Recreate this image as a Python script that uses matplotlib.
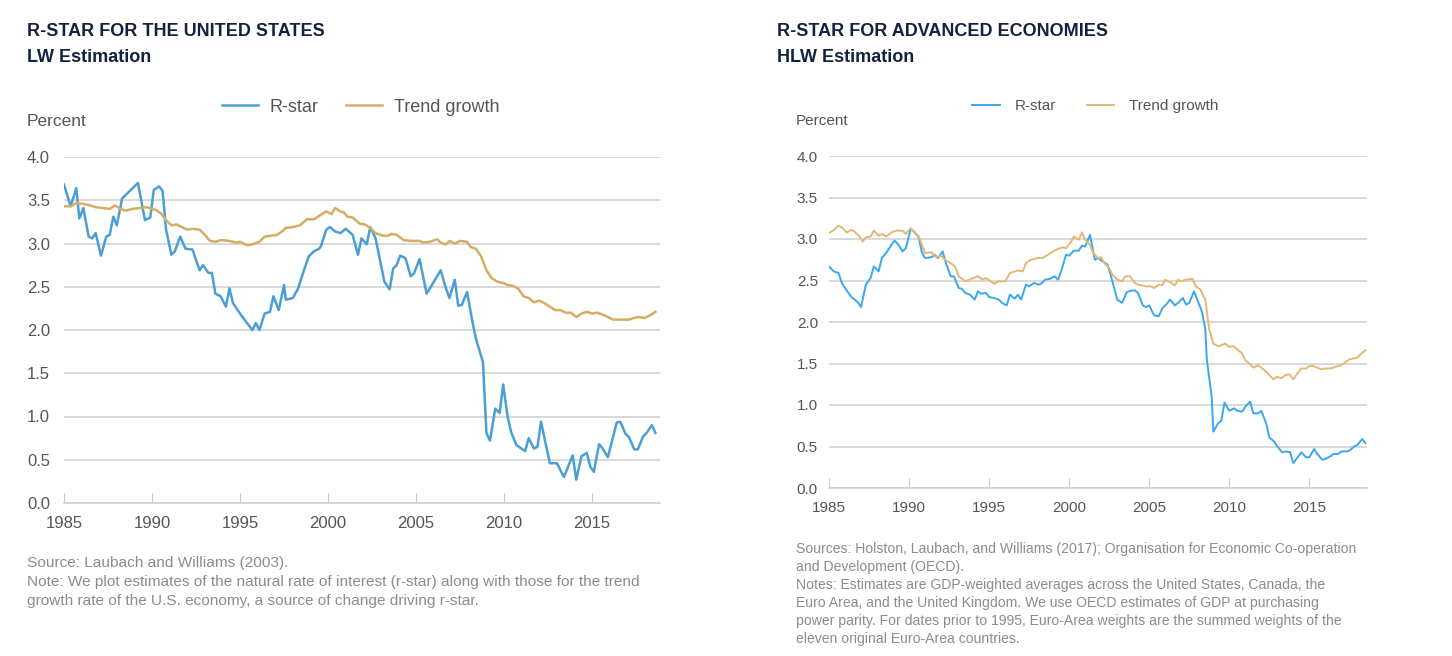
import matplotlib
matplotlib.use("Agg")
import matplotlib.pyplot as plt

# ---- left panel: R-star for the United States (LW) ----
us_rstar_yr = [1985.0, 1985.38, 1985.7, 1985.87, 1986.1, 1986.4, 1986.6, 1986.8, 1987.1, 1987.4,
               1987.6, 1987.8, 1988.0, 1988.3, 1988.7, 1989.2, 1989.6, 1989.9, 1990.1, 1990.4,
               1990.6, 1990.8, 1991.1, 1991.3, 1991.6, 1991.9, 1992.3, 1992.7, 1992.9, 1993.2,
               1993.4, 1993.6, 1993.9, 1994.2, 1994.4, 1994.6, 1995.0, 1995.4, 1995.7, 1995.9,
               1996.1, 1996.4, 1996.7, 1996.9, 1997.2, 1997.5, 1997.6, 1998.0, 1998.3, 1998.6,
               1998.9, 1999.2, 1999.5, 1999.6, 1999.9, 2000.1, 2000.4, 2000.7, 2001.0, 2001.4,
               2001.7, 2001.9, 2002.2, 2002.4, 2002.7, 2003.2, 2003.5, 2003.7, 2003.9, 2004.1,
               2004.4, 2004.7, 2004.9, 2005.2, 2005.6, 2005.9, 2006.4, 2006.7, 2006.9, 2007.2,
               2007.4, 2007.6, 2007.9, 2008.2, 2008.4, 2008.8, 2009.0, 2009.2, 2009.5, 2009.75,
               2009.95, 2010.2, 2010.4, 2010.7, 2011.2, 2011.4, 2011.7, 2011.9, 2012.1, 2012.6,
               2013.0, 2013.4, 2013.9, 2014.1, 2014.4, 2014.7, 2014.9, 2015.1, 2015.4, 2015.6,
               2015.9, 2016.4, 2016.6, 2016.9, 2017.1, 2017.4, 2017.6, 2017.9, 2018.1, 2018.4,
               2018.6]
us_rstar = [3.68, 3.43, 3.64, 3.29, 3.41, 3.08, 3.06, 3.12, 2.86, 3.08,
            3.10, 3.31, 3.21, 3.52, 3.60, 3.70, 3.27, 3.30, 3.62, 3.66,
            3.61, 3.16, 2.87, 2.91, 3.08, 2.94, 2.93, 2.69, 2.75, 2.66,
            2.66, 2.42, 2.39, 2.27, 2.48, 2.31, 2.19, 2.08, 2.00, 2.08,
            2.00, 2.19, 2.21, 2.39, 2.23, 2.52, 2.35, 2.37, 2.48, 2.67,
            2.85, 2.91, 2.94, 2.97, 3.16, 3.19, 3.14, 3.12, 3.17, 3.10,
            2.87, 3.06, 2.99, 3.19, 3.06, 2.56, 2.47, 2.71, 2.75, 2.86,
            2.83, 2.62, 2.66, 2.82, 2.42, 2.52, 2.69, 2.48, 2.37, 2.58,
            2.28, 2.29, 2.44, 2.10, 1.90, 1.63, 0.81, 0.72, 1.09, 1.04,
            1.37, 1.00, 0.82, 0.67, 0.60, 0.75, 0.63, 0.65, 0.94, 0.46,
            0.46, 0.30, 0.55, 0.27, 0.54, 0.58, 0.42, 0.36, 0.68, 0.63,
            0.53, 0.93, 0.94, 0.80, 0.76, 0.62, 0.62, 0.77, 0.81, 0.90,
            0.81]

us_trend_yr = [1985.0, 1985.4, 1985.7, 1986.0, 1986.3, 1986.5, 1986.8, 1987.2, 1987.6, 1987.9,
               1988.2, 1988.5, 1988.9, 1989.3, 1989.7, 1990.0, 1990.2, 1990.5, 1990.8, 1991.1,
               1991.4, 1991.7, 1992.0, 1992.3, 1992.7, 1993.0, 1993.3, 1993.6, 1993.9, 1994.4,
               1994.8, 1995.0, 1995.4, 1995.7, 1996.1, 1996.4, 1997.1, 1997.4, 1997.6, 1998.0,
               1998.4, 1998.8, 1999.2, 1999.5, 1999.9, 2000.2, 2000.4, 2000.7, 2000.9, 2001.1,
               2001.4, 2001.8, 2002.1, 2002.4, 2002.7, 2003.1, 2003.4, 2003.6, 2003.9, 2004.3,
               2004.7, 2005.2, 2005.4, 2005.8, 2006.2, 2006.4, 2006.7, 2006.9, 2007.2, 2007.5,
               2007.9, 2008.1, 2008.4, 2008.7, 2009.0, 2009.3, 2009.6, 2010.0, 2010.2, 2010.5,
               2010.8, 2011.1, 2011.4, 2011.7, 2012.0, 2012.3, 2012.6, 2012.9, 2013.2, 2013.5,
               2013.8, 2014.1, 2014.4, 2014.7, 2015.0, 2015.3, 2015.7, 2015.9, 2016.2, 2016.6,
               2017.1, 2017.4, 2017.6, 2018.0, 2018.3, 2018.6]
us_trend = [3.43, 3.43, 3.47, 3.46, 3.45, 3.44, 3.42, 3.41, 3.40, 3.44,
            3.40, 3.38, 3.40, 3.41, 3.42, 3.40, 3.39, 3.35, 3.27, 3.21,
            3.22, 3.19, 3.16, 3.17, 3.16, 3.10, 3.03, 3.02, 3.04, 3.03,
            3.01, 3.02, 2.98, 2.99, 3.02, 3.08, 3.10, 3.14, 3.18, 3.19,
            3.21, 3.28, 3.28, 3.32, 3.37, 3.34, 3.41, 3.37, 3.36, 3.31,
            3.30, 3.23, 3.22, 3.18, 3.12, 3.09, 3.09, 3.11, 3.10, 3.04,
            3.03, 3.03, 3.01, 3.02, 3.05, 3.01, 2.99, 3.03, 3.00, 3.03,
            3.02, 2.96, 2.94, 2.85, 2.69, 2.60, 2.56, 2.54, 2.52, 2.51,
            2.48, 2.39, 2.37, 2.32, 2.34, 2.31, 2.27, 2.23, 2.23, 2.20,
            2.20, 2.15, 2.19, 2.21, 2.19, 2.20, 2.17, 2.15, 2.12, 2.12,
            2.12, 2.14, 2.15, 2.14, 2.17, 2.21]

# ---- right panel: R-star for advanced economies (HLW) ----
ae_rstar_yr = [1985.0, 1985.3, 1985.6, 1985.8, 1986.0, 1986.4, 1986.8, 1987.0, 1987.3, 1987.6,
               1987.8, 1988.1, 1988.3, 1988.6, 1988.9, 1989.1, 1989.3, 1989.6, 1989.8, 1990.1,
               1990.3, 1990.6, 1990.8, 1991.0, 1991.4, 1991.6, 1991.8, 1992.1, 1992.3, 1992.6,
               1992.8, 1993.1, 1993.3, 1993.5, 1993.8, 1994.1, 1994.3, 1994.5, 1994.8, 1995.0,
               1995.3, 1995.6, 1995.8, 1996.1, 1996.3, 1996.6, 1996.8, 1997.0, 1997.3, 1997.5,
               1997.8, 1998.1, 1998.3, 1998.5, 1998.8, 1999.1, 1999.3, 1999.5, 1999.8, 2000.0,
               2000.3, 2000.6, 2000.8, 2001.0, 2001.3, 2001.6, 2001.8, 2002.1, 2002.4, 2002.7,
               2003.0, 2003.3, 2003.6, 2003.9, 2004.1, 2004.3, 2004.6, 2004.8, 2005.0, 2005.3,
               2005.6, 2005.8, 2006.1, 2006.3, 2006.6, 2006.8, 2007.1, 2007.3, 2007.5, 2007.8,
               2008.0, 2008.3, 2008.5, 2008.6, 2008.9, 2009.0, 2009.3, 2009.5, 2009.7, 2010.0,
               2010.3, 2010.5, 2010.8, 2011.0, 2011.3, 2011.5, 2011.8, 2012.0, 2012.3, 2012.5,
               2012.8, 2013.0, 2013.3, 2013.5, 2013.8, 2014.0, 2014.3, 2014.5, 2014.8, 2015.0,
               2015.3, 2015.5, 2015.8, 2016.0, 2016.3, 2016.5, 2016.8, 2017.0, 2017.3, 2017.5,
               2017.8, 2018.0, 2018.3, 2018.5]
ae_rstar = [2.67, 2.61, 2.59, 2.47, 2.41, 2.30, 2.24, 2.18, 2.45, 2.53,
            2.67, 2.61, 2.77, 2.84, 2.93, 2.98, 2.94, 2.85, 2.89, 3.12,
            3.09, 3.02, 2.84, 2.77, 2.78, 2.81, 2.77, 2.85, 2.71, 2.55,
            2.55, 2.41, 2.40, 2.35, 2.33, 2.27, 2.37, 2.34, 2.35, 2.30,
            2.29, 2.27, 2.23, 2.20, 2.33, 2.28, 2.33, 2.27, 2.45, 2.43,
            2.47, 2.45, 2.47, 2.51, 2.52, 2.55, 2.51, 2.61, 2.81, 2.80,
            2.86, 2.86, 2.92, 2.91, 3.05, 2.75, 2.77, 2.73, 2.69, 2.49,
            2.27, 2.23, 2.36, 2.38, 2.38, 2.35, 2.20, 2.18, 2.20, 2.08,
            2.07, 2.16, 2.22, 2.27, 2.20, 2.23, 2.29, 2.21, 2.23, 2.37,
            2.27, 2.12, 1.91, 1.54, 1.10, 0.68, 0.78, 0.81, 1.03, 0.93,
            0.96, 0.93, 0.92, 0.98, 1.04, 0.90, 0.90, 0.93, 0.78, 0.61,
            0.56, 0.50, 0.43, 0.44, 0.43, 0.30, 0.38, 0.43, 0.37, 0.37,
            0.47, 0.41, 0.34, 0.35, 0.38, 0.41, 0.41, 0.44, 0.44, 0.45,
            0.50, 0.52, 0.59, 0.54]

ae_trend_yr = [1985.0, 1985.3, 1985.6, 1985.8, 1986.1, 1986.4, 1986.6, 1986.9, 1987.1, 1987.3,
               1987.6, 1987.8, 1988.1, 1988.3, 1988.6, 1988.9, 1989.2, 1989.6, 1989.8, 1990.1,
               1990.3, 1990.6, 1990.8, 1991.0, 1991.4, 1991.7, 1992.0, 1992.3, 1992.6, 1992.9,
               1993.1, 1993.5, 1993.9, 1994.3, 1994.6, 1994.8, 1995.1, 1995.3, 1995.6, 1996.0,
               1996.3, 1996.6, 1996.8, 1997.1, 1997.3, 1997.6, 1998.0, 1998.3, 1998.6, 1998.9,
               1999.3, 1999.6, 1999.8, 2000.1, 2000.3, 2000.6, 2000.8, 2001.0, 2001.3, 2001.5,
               2001.8, 2002.0, 2002.2, 2002.5, 2002.7, 2003.0, 2003.3, 2003.5, 2003.8, 2004.1,
               2004.3, 2004.8, 2005.1, 2005.3, 2005.6, 2005.8, 2006.0, 2006.4, 2006.6, 2006.8,
               2007.0, 2007.3, 2007.7, 2007.9, 2008.2, 2008.5, 2008.75, 2009.0, 2009.3, 2009.5,
               2009.75, 2010.0, 2010.25, 2010.5, 2010.8, 2011.0, 2011.25, 2011.5, 2011.8, 2012.0,
               2012.25, 2012.5, 2012.75, 2013.0, 2013.25, 2013.5, 2013.75, 2014.0, 2014.25, 2014.5,
               2014.8, 2015.0, 2015.25, 2015.5, 2015.75, 2016.0, 2016.25, 2016.5, 2016.8, 2017.0,
               2017.3, 2017.5, 2017.75, 2018.0, 2018.25, 2018.5]
ae_trend = [3.07, 3.11, 3.16, 3.14, 3.08, 3.11, 3.09, 3.03, 2.97, 3.02,
            3.03, 3.10, 3.04, 3.06, 3.03, 3.08, 3.10, 3.10, 3.06, 3.13,
            3.09, 3.03, 2.93, 2.83, 2.84, 2.78, 2.80, 2.74, 2.71, 2.66,
            2.55, 2.49, 2.52, 2.55, 2.51, 2.53, 2.49, 2.46, 2.49, 2.49,
            2.59, 2.61, 2.62, 2.61, 2.71, 2.75, 2.77, 2.77, 2.80, 2.84,
            2.88, 2.90, 2.89, 2.96, 3.03, 2.99, 3.08, 2.99, 2.93, 2.83,
            2.77, 2.78, 2.71, 2.65, 2.57, 2.51, 2.49, 2.55, 2.55, 2.47,
            2.45, 2.43, 2.43, 2.41, 2.45, 2.44, 2.51, 2.47, 2.44, 2.51,
            2.49, 2.51, 2.52, 2.43, 2.39, 2.27, 1.91, 1.74, 1.71, 1.72,
            1.74, 1.70, 1.71, 1.67, 1.62, 1.54, 1.50, 1.45, 1.48, 1.45,
            1.41, 1.36, 1.31, 1.34, 1.32, 1.36, 1.37, 1.31, 1.38, 1.44,
            1.44, 1.47, 1.47, 1.45, 1.43, 1.44, 1.44, 1.45, 1.47, 1.48,
            1.52, 1.55, 1.56, 1.57, 1.62, 1.66]

year_ticks = [1985, 1990, 1995, 2000, 2005, 2010, 2015]
value_ticks = [0.0, 0.5, 1.0, 1.5, 2.0, 2.5, 3.0, 3.5, 4.0]

left_titles = ["R-STAR FOR THE UNITED STATES", "LW Estimation"]
right_titles = ["R-STAR FOR ADVANCED ECONOMIES", "HLW Estimation"]
left_notes = [
    "Source: Laubach and Williams (2003).",
    "Note: We plot estimates of the natural rate of interest (r-star) along with those for the trend",
    "growth rate of the U.S. economy, a source of change driving r-star.",
]
right_notes = [
    "Sources: Holston, Laubach, and Williams (2017); Organisation for Economic Co-operation",
    "and Development (OECD).",
    "Notes: Estimates are GDP-weighted averages across the United States, Canada, the",
    "Euro Area, and the United Kingdom. We use OECD estimates of GDP at purchasing",
    "power parity. For dates prior to 1995, Euro-Area weights are the summed weights of the",
    "eleven original Euro-Area countries.",
]

W, H = 1452, 656
BODY_FONT = ["Liberation Sans", "DejaVu Sans"]
NAVY = "#13223f"
GREY_TXT = "#555555"
NOTE_TXT = "#8c8c8c"
GRID = "#d0d0d0"

plt.rcParams["font.family"] = BODY_FONT

fig = plt.figure(figsize=(W / 100, H / 100), dpi=100)


def px(x, y):
    return x / W, 1 - y / H


def style_axes(ax, xmax, tick_size, ypad):
    ax.set_xlim(1985, xmax)
    ax.set_ylim(0, 4.0)
    ax.set_yticks(value_ticks)
    ax.set_yticklabels([f"{v:.1f}" for v in value_ticks])
    ax.set_xticks(year_ticks)
    ax.set_xticklabels([str(y) for y in year_ticks])
    ax.grid(axis="y", color=GRID, linewidth=1.1)
    ax.set_axisbelow(True)
    for s in ["top", "right", "left"]:
        ax.spines[s].set_visible(False)
    ax.spines["bottom"].set_color(GRID)
    ax.spines["bottom"].set_linewidth(1.1)
    ax.tick_params(axis="y", length=0, pad=ypad, labelsize=tick_size, labelcolor=GREY_TXT)
    ax.tick_params(axis="x", direction="in", length=7, width=0.8, color="#c8c8c8",
                   pad=9, labelsize=tick_size, labelcolor=GREY_TXT)


# left panel
l, b = px(64, 503)
axL = fig.add_axes([l, b, 596 / W, 346 / H])
axL.plot(us_rstar_yr, us_rstar, color="#4a9fd6", lw=1.8, label="R-star")
axL.plot(us_trend_yr, us_trend, color="#d6ad64", lw=1.8, label="Trend growth")
style_axes(axL, 2018.86, 12, 10)
axL.legend(loc="center left", bbox_to_anchor=px(222, 107), bbox_transform=fig.transFigure,
           ncol=2, frameon=False, fontsize=13, handlelength=2.0, handletextpad=0.65,
           columnspacing=1.5, borderpad=0, borderaxespad=0, labelcolor=GREY_TXT)

# right panel
l, b = px(829, 488)
axR = fig.add_axes([l, b, 538 / W, 332 / H])
axR.plot(ae_rstar_yr, ae_rstar, color="#3aa8f0", lw=1.4, label="R-star")
axR.plot(ae_trend_yr, ae_trend, color="#e3b873", lw=1.4, label="Trend growth")
style_axes(axR, 2018.6, 11, 8)
axR.legend(loc="center left", bbox_to_anchor=px(972, 106), bbox_transform=fig.transFigure,
           ncol=2, frameon=False, fontsize=11, handlelength=1.8, handletextpad=1.0,
           columnspacing=2.0, borderpad=0, borderaxespad=0, labelcolor=GREY_TXT)

# titles and labels
for x0, titles in [(27, left_titles), (777, right_titles)]:
    fig.text(*px(x0, 32), titles[0], fontweight="bold", fontsize=13,
             color=NAVY, va="center", ha="left")
    fig.text(*px(x0, 57), titles[1], fontweight="bold", fontsize=13,
             color=NAVY, va="center", ha="left")

fig.text(*px(27, 122), "Percent", fontsize=12.5, color=GREY_TXT, va="center", ha="left")
fig.text(*px(796, 121), "Percent", fontsize=11, color=GREY_TXT, va="center", ha="left")

# notes
for i, line in enumerate(left_notes):
    fig.text(*px(27, 563 + i * 19), line, fontsize=11.1, color=NOTE_TXT, va="center", ha="left")
for i, line in enumerate(right_notes):
    fig.text(*px(796, 549 + i * 18), line, fontsize=10.1, color=NOTE_TXT, va="center", ha="left")

fig.savefig("out.png", dpi=100, facecolor="white")
